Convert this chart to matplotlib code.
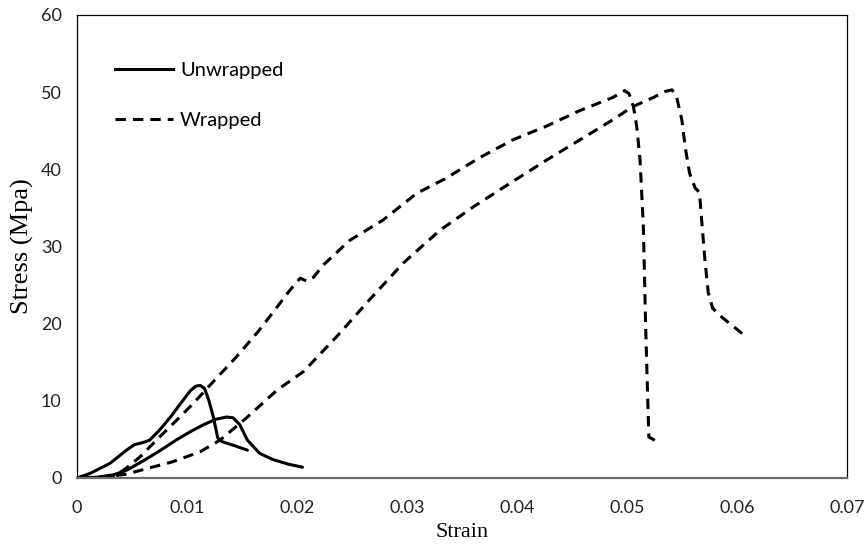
import matplotlib
matplotlib.use("Agg")
import matplotlib.pyplot as plt
from matplotlib.lines import Line2D

# ---- data ----
u1_strain = [0, 0.0012, 0.003, 0.0045, 0.0052, 0.006, 0.0066, 0.0075, 0.0085, 0.0095,
             0.0103, 0.0108, 0.0112, 0.0116, 0.012, 0.0124, 0.0128, 0.0132, 0.0143, 0.0155]
u1_stress = [0, 0.6, 1.9, 3.6, 4.3, 4.6, 4.9, 6.2, 7.9, 9.8,
             11.3, 11.9, 12.0, 11.6, 10.0, 7.9, 5.2, 4.7, 4.2, 3.6]

u2_strain = [0, 0.0018, 0.0033, 0.0045, 0.006, 0.0075, 0.009, 0.0103, 0.0115, 0.0126,
             0.0136, 0.0142, 0.0148, 0.0155, 0.0166, 0.0178, 0.0192, 0.0205]
u2_stress = [0, 0.1, 0.4, 1.0, 2.2, 3.5, 4.9, 6.0, 6.9, 7.6,
             7.9, 7.8, 6.9, 4.9, 3.2, 2.4, 1.8, 1.4]

w1_strain = [0.0025, 0.0035, 0.0045, 0.0057, 0.0075, 0.009, 0.0106, 0.0124, 0.0145, 0.0166,
             0.0194, 0.0203, 0.0209, 0.0215, 0.0224, 0.0248, 0.0278, 0.0309, 0.0335, 0.0366,
             0.0396, 0.0427, 0.0457, 0.0487, 0.0498, 0.0502, 0.0506, 0.0509, 0.0512, 0.0515,
             0.0517, 0.0519, 0.052, 0.0524, 0.053]
w1_stress = [0, 0.3, 1.3, 2.7, 5.3, 7.4, 9.7, 12.5, 15.7, 19.2,
             24.4, 25.9, 25.5, 26.0, 27.6, 30.8, 33.4, 36.9, 38.8, 41.5,
             43.8, 45.6, 47.6, 49.3, 50.2, 49.8, 48.1, 45.5, 41.2, 32.5,
             20.0, 10.0, 5.3, 5.0, 4.3]

w2_strain = [0.002, 0.0045, 0.0063, 0.0087, 0.0112, 0.013, 0.0155, 0.0182, 0.0206, 0.0236,
             0.0266, 0.0297, 0.033, 0.036, 0.0396, 0.0427, 0.0457, 0.0487, 0.0505, 0.0524,
             0.0535, 0.0541, 0.0545, 0.055, 0.0553, 0.0557, 0.0562, 0.0566, 0.0568, 0.0571,
             0.0574, 0.0578, 0.0585, 0.0605]
w2_stress = [0, 0.5, 1.2, 2.1, 3.4, 4.9, 7.9, 11.4, 13.8, 18.3,
             23.1, 27.9, 32.1, 35.1, 38.4, 41.2, 43.8, 46.4, 48.1, 49.3,
             50.1, 50.3, 49.5, 46.4, 42.9, 39.5, 37.6, 37.0, 33.4, 28.2,
             24.0, 22.0, 21.0, 18.7]

x_ticks = [0, 0.01, 0.02, 0.03, 0.04, 0.05, 0.06, 0.07]
x_tick_labels = ["0", "0.01", "0.02", "0.03", "0.04", "0.05", "0.06", "0.07"]
y_ticks = [0, 10, 20, 30, 40, 50, 60]
y_tick_labels = ["0", "10", "20", "30", "40", "50", "60"]
legend_labels = ["Unwrapped", "Wrapped"]

# ---- figure ----
fig = plt.figure(figsize=(8.65, 5.51), dpi=100)
ax = fig.add_axes([0.089, 0.1325, 0.890, 0.8403])

lw = 2.2
dash = (0, (3.4, 2.3))
ax.plot(u1_strain, u1_stress, color="black", lw=lw, solid_joinstyle="round", solid_capstyle="round")
ax.plot(u2_strain, u2_stress, color="black", lw=lw, solid_joinstyle="round", solid_capstyle="round")
ax.plot(w1_strain, w1_stress, color="black", lw=lw, linestyle=dash, dash_joinstyle="round")
ax.plot(w2_strain, w2_stress, color="black", lw=lw, linestyle=dash, dash_joinstyle="round")

ax.set_xlim(0, 0.07)
ax.set_ylim(0, 60)
ax.set_xticks(x_ticks)
ax.set_xticklabels(x_tick_labels)
ax.set_yticks(y_ticks)
ax.set_yticklabels(y_tick_labels)
ax.tick_params(axis="both", length=0, labelsize=13)
ax.tick_params(axis="x", pad=16)
ax.tick_params(axis="y", pad=11)
for lab in ax.get_xticklabels() + ax.get_yticklabels():
    lab.set_fontfamily(["Lato", "DejaVu Sans"])
    lab.set_color("#222222")

for s in ["left", "top", "right"]:
    ax.spines[s].set_color("black")
    ax.spines[s].set_linewidth(0.9)
ax.spines["bottom"].set_color("#6e6e6e")
ax.spines["bottom"].set_linewidth(1.6)

ax.set_xlabel("Strain", fontsize=16, family=["Liberation Serif", "DejaVu Serif"], labelpad=5)
ax.set_ylabel("Stress (Mpa)", fontsize=19, family=["Liberation Serif", "DejaVu Serif"], labelpad=5)

handles = [Line2D([], [], color="black", lw=lw),
           Line2D([], [], color="black", lw=lw, linestyle=dash)]
leg = ax.legend(handles, legend_labels, loc="upper left", bbox_to_anchor=(0.049, 0.899),
                frameon=False, borderaxespad=0, borderpad=0, handlelength=2.9,
                handletextpad=0.35, labelspacing=1.62,
                prop={"family": ["Lato", "DejaVu Sans"], "size": 14.5})

fig.savefig("out.png", dpi=100)
